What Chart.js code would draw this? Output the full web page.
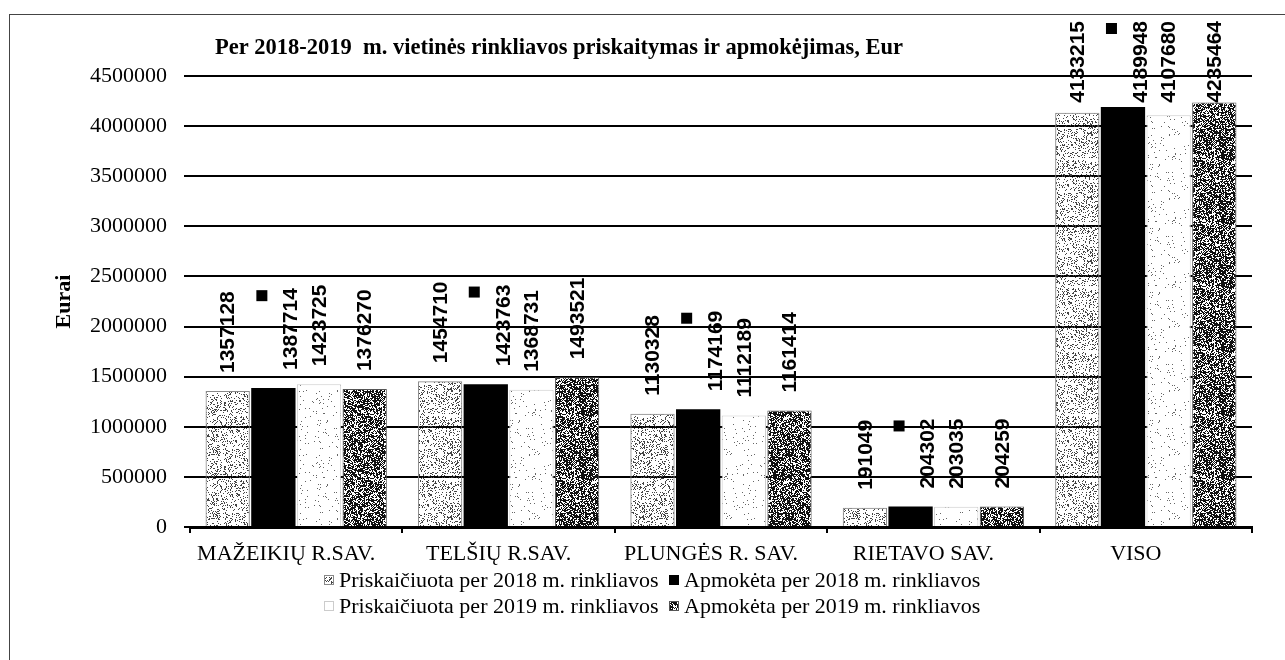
<!DOCTYPE html>
<html>
<head>
<meta charset="utf-8">
<script src="https://cdn.jsdelivr.net/npm/chart.js@4"></script>
<style>
  html, body { margin: 0; padding: 0; background: #fff; }
  #wrap { position: relative; width: 1285px; height: 660px; }
  #frame { position: absolute; left: 9px; top: 14px; right: 0; bottom: 0; border-top: 1px solid #444; border-left: 1px solid #444; }
  #chart { position: absolute; left: 0; top: 0; }
</style>
</head>
<body>
<div id="wrap">
  <div id="frame"></div>
  <canvas id="chart" width="1285" height="660"></canvas>
</div>
<script>
// Per 2018-2019 m. vietinės rinkliavos, Eur
const categories = ['MAŽEIKIŲ R.SAV.', 'TELŠIŲ R.SAV.', 'PLUNGĖS R. SAV.', 'RIETAVO SAV.', 'VISO'];
const assessed2018 = [1357128, 1454710, 1130328, 191049, 4133215];
const paid2018 = [1387714, 1423763, 1174169, 204302, 4189948];
const assessed2019 = [1423725, 1368731, 1112189, 203035, 4107680];
const paid2019 = [1376270, 1493521, 1161414, 204259, 4235464];
const seriesNames = [
    'Priskaičiuota per 2018 m. rinkliavos',
    'Apmokėta per 2018 m. rinkliavos',
    'Priskaičiuota per 2019 m. rinkliavos',
    'Apmokėta per 2019 m. rinkliavos'
];
const yTicks = [0, 500000, 1000000, 1500000, 2000000, 2500000, 3000000, 3500000, 4000000, 4500000];

const serif = '"Liberation Serif", "Times New Roman", serif';

// scanned-looking stipple fill (deterministic hash, no random)
function stipple(density, dot, bg) {
    const c = document.createElement('canvas');
    c.width = c.height = 64;
    const g = c.getContext('2d');
    if (bg) { g.fillStyle = bg; g.fillRect(0, 0, 64, 64); }
    g.fillStyle = dot;
    for (let y = 0; y < 64; y++) {
        for (let x = 0; x < 64; x++) {
            let h = Math.imul(x, 374761393) + Math.imul(y, 668265263);
            h = Math.imul(h ^ (h >>> 13), 1274126177);
            h ^= h >>> 16;
            if ((h >>> 0) / 4294967296 < density) g.fillRect(x, y, 1, 1);
        }
    }
    return g.createPattern(c, 'repeat');
}

const lightFill = stipple(0.22, '#444', null);
const darkFill = stipple(0.62, '#111', '#fff');
const faintFill = stipple(0.03, '#666', '#fff');

const fills = [lightFill, '#000', faintFill, darkFill];
const borders = ['#888', '#000', '#ccc', '#555'];

const labelsPlugin = {
    id: 'valueLabels',
    afterDatasetsDraw(chart) {
        const ctx = chart.ctx;
        const minTop = chart.chartArea.top - 55;
        ctx.save();
        ctx.font = 'bold 21px "Liberation Sans", Arial, sans-serif';
        ctx.fillStyle = '#000';
        chart.data.datasets.forEach((ds, i) => {
            const meta = chart.getDatasetMeta(i);
            meta.data.forEach((bar, j) => {
                const txt = String(ds.data[j]);
                const tw = ctx.measureText(txt).width;
                const bottom = Math.max(bar.y - 18, minTop + tw);
                const x = bar.x + (i === 1 ? 17 : 0);
                if (i === 1) ctx.fillRect(bar.x - 17, bottom - tw + 2, 11, 11);
                ctx.save();
                ctx.translate(x, bottom);
                ctx.rotate(-Math.PI / 2);
                ctx.textAlign = 'left';
                ctx.textBaseline = 'middle';
                ctx.fillText(txt, 0, 1);
                ctx.restore();
            });
        });
        ctx.restore();
    }
};

const titleLegendPlugin = {
    id: 'titleLegend',
    afterDraw(chart) {
        const ctx = chart.ctx;
        const area = chart.chartArea;
        ctx.save();
        ctx.fillStyle = '#000';
        ctx.font = 'bold 22.5px ' + serif;
        ctx.textBaseline = 'middle';
        ctx.fillText('Per 2018-2019  m. vietinės rinkliavos priskaitymas ir apmokėjimas, Eur', area.left + 25, area.top - 28);

        // legend, two rows of two items
        ctx.font = '22px ' + serif;
        const cols = [area.left + 139, area.left + 484];
        const rows = [area.bottom + 53, area.bottom + 79];
        seriesNames.forEach((name, i) => {
            const x = cols[i % 2];
            const y = rows[Math.floor(i / 2)];
            ctx.fillStyle = fills[i];
            ctx.fillRect(x - 4, y - 4, 8, 8);
            ctx.strokeStyle = borders[i];
            ctx.lineWidth = 1;
            ctx.strokeRect(x - 4.5, y - 4.5, 9, 9);
            ctx.fillStyle = '#000';
            ctx.fillText(name, x + 10, y + 1);
        });
        ctx.restore();
    }
};

const datasets = [assessed2018, paid2018, assessed2019, paid2019].map((vals, i) => ({
    label: seriesNames[i],
    data: vals,
    backgroundColor: fills[i],
    borderColor: borders[i],
    borderWidth: i === 1 ? 0 : 1,
    barPercentage: 0.97,
    categoryPercentage: 0.86
}));

new Chart(document.getElementById('chart'), {
    type: 'bar',
    data: { labels: categories, datasets: datasets },
    options: {
        responsive: false,
        animation: false,
        events: [],
        layout: { padding: { left: 43, right: 33, top: 76, bottom: 90 } },
        plugins: {
            legend: { display: false },
            tooltip: { enabled: false }
        },
        scales: {
            x: {
                offset: true,
                border: { display: true, color: '#000', width: 3 },
                grid: { offset: true, drawOnChartArea: false, drawTicks: true, tickLength: 6, color: '#000', lineWidth: 2 },
                ticks: {
                    color: '#000',
                    padding: 8,
                    labelOffset: -10,
                    font: { family: serif, size: 22 },
                    maxRotation: 0,
                    autoSkip: false
                },
                afterFit(scale) { scale.height = 43; }
            },
            y: {
                min: 0,
                max: 4500000,
                afterBuildTicks(scale) { scale.ticks = yTicks.map(v => ({ value: v })); },
                border: { display: false },
                grid: { color: '#000', lineWidth: 2, tickLength: 6 },
                ticks: {
                    color: '#000',
                    padding: 17,
                    font: { family: serif, size: 22 },
                    callback: v => String(v)
                },
                title: {
                    display: true,
                    text: 'Eurai',
                    color: '#000',
                    font: { family: serif, size: 22, weight: 'bold' },
                    padding: { top: 8, bottom: 0 }
                },
                afterFit(scale) { scale.width = 147; }
            }
        }
    },
    plugins: [labelsPlugin, titleLegendPlugin]
});
</script>
</body>
</html>
